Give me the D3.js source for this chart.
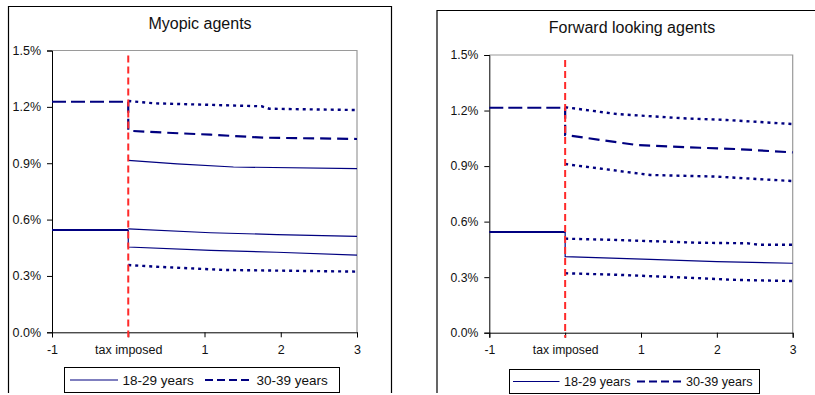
<!DOCTYPE html>
<html>
<head>
<meta charset="utf-8">
<script src="https://cdn.jsdelivr.net/npm/d3@7"></script>
<style>
  html, body { margin: 0; padding: 0; background: #fff; }
  svg { display: block; font-family: "Liberation Sans", Arial, sans-serif; }
</style>
</head>
<body>
<svg id="chart" width="815" height="395"></svg>
<script>
// ---------- DATA ----------
const panelTitles = ["Myopic agents", "Forward looking agents"];
const xTickValues = [-1, 0, 1, 2, 3];
const xTickLabels = ["-1", "tax imposed", "1", "2", "3"];
const yTickValues = [0, 0.3, 0.6, 0.9, 1.2, 1.5];
const legendLabels = ["18-29 years", "30-39 years"];
const taxX = 0;
const preTaxX = [-1, 0];

// Myopic agents (values in %)
const myopicPre1829 = [0.545, 0.545];
const myopicPre3039 = [1.227, 1.227];
const myopic1829Upper = [[0, 0.550], [1.08, 0.530], [1.95, 0.520], [3, 0.511]];
const myopic1829Mean  = [[0, 0.545], [0, 0.454], [1.08, 0.436], [1.95, 0.426], [3, 0.411]];
const myopic1829Lower = [[0, 0.358], [0.37, 0.349], [1.25, 0.332], [3, 0.323]];
const myopic3039Upper = [[0, 1.231], [0.33, 1.219], [1.75, 1.203], [1.85, 1.190], [3, 1.183]];
const myopic3039Mean  = [[0, 1.227], [0, 1.073], [0.36, 1.065], [1.08, 1.052], [1.77, 1.036], [3, 1.029]];
const myopic3039Lower = [[0, 0.9155], [0.64, 0.896], [1.38, 0.880], [3, 0.871]];

// Forward looking agents (values in %)
const forwardPre1829 = [0.544, 0.544];
const forwardPre3039 = [1.2155, 1.2155];
const forward1829Upper = [[0, 0.508], [0.68, 0.501], [1.73, 0.486], [2.4, 0.483], [2.55, 0.475], [3, 0.475]];
const forward1829Mean  = [[0, 0.544], [0, 0.411], [1.12, 0.396], [2.0, 0.384], [3, 0.375]];
const forward1829Lower = [[0, 0.321], [0.68, 0.313], [1.73, 0.295], [2.26, 0.285], [3, 0.279]];
const forward3039Upper = [[0, 1.218], [0.68, 1.181], [1.56, 1.158], [2.13, 1.149], [3, 1.127]];
const forward3039Mean  = [[0, 1.2155], [0, 1.068], [0.94, 1.014], [1.78, 0.999], [2.26, 0.992], [3, 0.974]];
const forward3039Lower = [[0, 0.911], [1.12, 0.852], [2.0, 0.843], [3, 0.819]];

// ---------- STYLES ----------
const NAVY = "#000080";
const styles = {
  preSolid:  { w: 2,   dash: null },
  preDash:   { w: 2,   dash: "14,5" },
  solid:     { w: 1.2, dash: null },
  dash:      { w: 2.2, dash: "11,6" },
  dot:       { w: 2.4, dash: "3,4" }
};

const panels = [
  {
    title: panelTitles[0],
    frame: "M8.5,393 V6.5 H391.5 V393",
    plot: { x0: 52, x1: 357, y0: 50.5, y1: 332.3 },
    titleX: 200, titleY: 29,
    font: 12.5, legendFont: 13.5,
    legend: { x: 64.5, y: 367.5, w: 275, h: 25, s1: [70, 118], t1: 122.5, s2: [205, 251], t2: 256.5 },
    series: [
      { pts: preTaxX.map((x, i) => [x, myopicPre3039[i]]), st: "preDash" },
      { pts: preTaxX.map((x, i) => [x, myopicPre1829[i]]), st: "preSolid" },
      { pts: myopic3039Upper, st: "dot" },
      { pts: myopic3039Mean, st: "dash" },
      { pts: myopic3039Lower, st: "solid" },
      { pts: myopic1829Upper, st: "solid" },
      { pts: myopic1829Mean, st: "solid" },
      { pts: myopic1829Lower, st: "dot" }
    ]
  },
  {
    title: panelTitles[1],
    frame: "M437,393 V10.5 H815",
    plot: { x0: 489.3, x1: 792.7, y0: 55, y1: 332.7 },
    titleX: 632, titleY: 33,
    font: 12.2, legendFont: 12.6,
    legend: { x: 509.5, y: 369.5, w: 250, h: 24, s1: [513, 559.5], t1: 564, s2: [637, 683.5], t2: 686 },
    series: [
      { pts: preTaxX.map((x, i) => [x, forwardPre3039[i]]), st: "preDash" },
      { pts: preTaxX.map((x, i) => [x, forwardPre1829[i]]), st: "preSolid" },
      { pts: forward3039Upper, st: "dot" },
      { pts: forward3039Mean, st: "dash" },
      { pts: forward3039Lower, st: "dot" },
      { pts: forward1829Upper, st: "dot" },
      { pts: forward1829Mean, st: "solid" },
      { pts: forward1829Lower, st: "dot" }
    ]
  }
];

const svg = d3.select("#chart");

panels.forEach(p => {
  const g = svg.append("g");
  // outer frame
  g.append("path").attr("d", p.frame).attr("fill", "none").attr("stroke", "#000").attr("stroke-width", 1.2);

  // title
  g.append("text").attr("x", p.titleX).attr("y", p.titleY).attr("text-anchor", "middle")
    .attr("font-size", 16).attr("fill", "#111").text(p.title);

  const x = d3.scaleLinear().domain([-1, 3]).range([p.plot.x0, p.plot.x1]);
  const y = d3.scaleLinear().domain([0, 1.5]).range([p.plot.y1, p.plot.y0]);

  // plot area border (gray top/right)
  g.append("path")
    .attr("d", `M${p.plot.x0},${p.plot.y0} H${p.plot.x1} V${p.plot.y1}`)
    .attr("fill", "none").attr("stroke", "#9a9a9a").attr("stroke-width", 1.2);

  // y axis
  const yAxis = d3.axisLeft(y).tickValues(yTickValues).tickSize(5).tickPadding(6)
    .tickFormat(d => d.toFixed(1) + "%");
  const ya = g.append("g").attr("transform", `translate(${p.plot.x0},0)`).call(yAxis);
  ya.select(".domain").attr("stroke", "#000");
  ya.selectAll(".tick line").attr("stroke", "#000");
  ya.selectAll("text").attr("font-size", p.font).attr("font-family", "Liberation Sans, Arial, sans-serif").attr("fill", "#111");

  // x axis
  const xAxis = d3.axisBottom(x).tickValues(xTickValues).tickSize(5).tickPadding(8)
    .tickFormat((d, i) => xTickLabels[i]);
  const xa = g.append("g").attr("transform", `translate(0,${p.plot.y1})`).call(xAxis);
  xa.select(".domain").attr("stroke", "#000");
  xa.selectAll(".tick line").attr("stroke", "#000");
  xa.selectAll("text").attr("font-size", p.font).attr("font-family", "Liberation Sans, Arial, sans-serif").attr("fill", "#111");

  // series
  const line = d3.line().x(d => x(d[0])).y(d => y(d[1]));
  p.series.forEach(s => {
    const st = styles[s.st];
    g.append("path").datum(s.pts).attr("d", line)
      .attr("fill", "none").attr("stroke", NAVY).attr("stroke-width", st.w)
      .attr("stroke-dasharray", st.dash);
  });

  // red tax line
  g.append("line")
    .attr("x1", x(taxX)).attr("x2", x(taxX))
    .attr("y1", p.plot.y0 + 5).attr("y2", p.plot.y1 + 5)
    .attr("stroke", "#ff2a2a").attr("stroke-width", 2).attr("stroke-dasharray", "7,4");

  // legend
  const L = p.legend;
  g.append("rect").attr("x", L.x).attr("y", L.y).attr("width", L.w).attr("height", L.h)
    .attr("fill", "#fff").attr("stroke", "#000").attr("stroke-width", 1);
  const ly = L.y + L.h / 2;
  g.append("line").attr("x1", L.s1[0]).attr("x2", L.s1[1]).attr("y1", ly).attr("y2", ly)
    .attr("stroke", NAVY).attr("stroke-width", 1.2);
  g.append("line").attr("x1", L.s2[0]).attr("x2", L.s2[1]).attr("y1", ly).attr("y2", ly)
    .attr("stroke", NAVY).attr("stroke-width", 2.2).attr("stroke-dasharray", "8,4");
  g.append("text").attr("x", L.t1).attr("y", ly).attr("dy", "0.35em")
    .attr("font-size", p.legendFont).attr("fill", "#111").text(legendLabels[0]);
  g.append("text").attr("x", L.t2).attr("y", ly).attr("dy", "0.35em")
    .attr("font-size", p.legendFont).attr("fill", "#111").text(legendLabels[1]);
});
</script>
</body>
</html>
